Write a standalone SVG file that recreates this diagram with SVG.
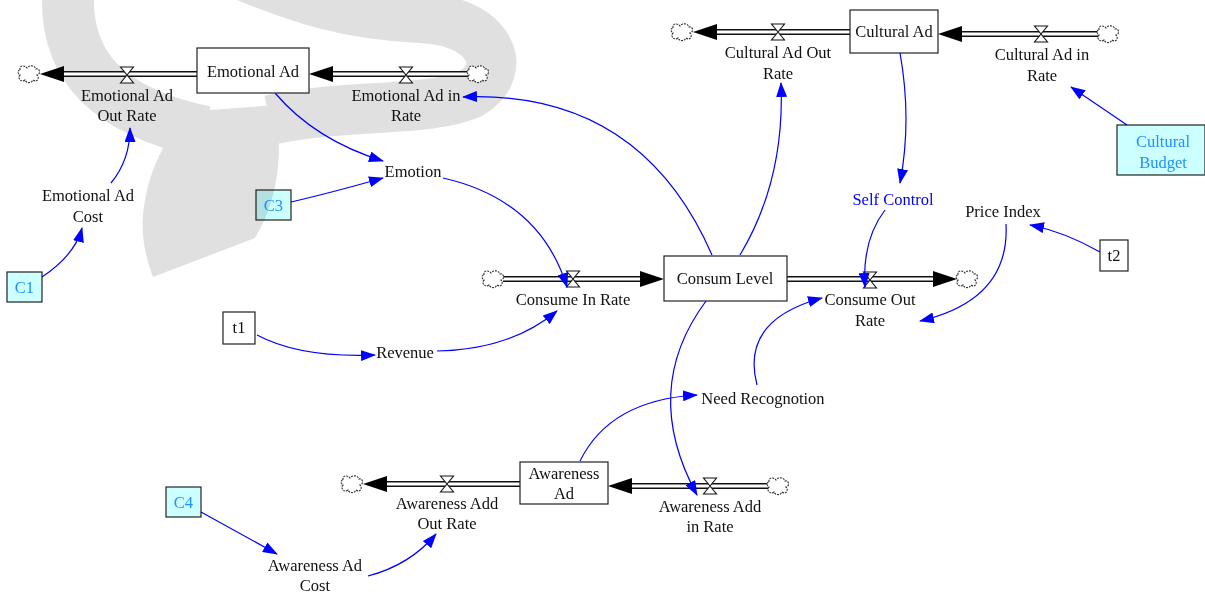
<svg xmlns="http://www.w3.org/2000/svg" width="1205" height="594" viewBox="0 0 1205 594">
  <style>
    text { font-family: "Liberation Serif", "Times New Roman", serif; font-size: 16.5px; fill: #111; text-anchor: middle; }
    .stock { fill: #fff; stroke: #222; stroke-width: 1.2; }
    .const { fill: #ccffff; stroke: #222; stroke-width: 1.2; mix-blend-mode: multiply; }
    .aux { fill: #fff; stroke: #222; stroke-width: 1.2; }
    text.ctext { fill: #1e90ff; }
    text.blue { fill: #0000ff; }
    .pipeOut { stroke: #111; stroke-width: 6; fill: none; }
    .pipeIn { stroke: #fff; stroke-width: 3; fill: none; }
    .link { stroke: #0000ff; stroke-width: 1.2; fill: none; marker-end: url(#ah); }
    .valve { fill: #fff; stroke: #111; stroke-width: 1.1; }
    .cloud { fill: #fff; stroke: #333; stroke-width: 1.1; stroke-dasharray: 2 1; }
    .head { fill: #000; }
    .markFill { fill: #e0e0e0; }
    .markStroke { fill: none; stroke: #e0e0e0; }
  </style>
  <defs>
    <marker id="ah" markerUnits="userSpaceOnUse" markerWidth="15" markerHeight="11" refX="14" refY="5.5" orient="auto">
      <path d="M0,0 L15,5.5 L0,11 Z" fill="#0000ff"/>
    </marker>
    <!-- cloud (source / sink) centred on 0,0 -->
    <path id="cloud" class="cloud" d="M-9,-4 C-10,-9 -4,-9 -2,-6 C0,-9 6,-9 7,-5 C11,-6 12,0 8,1 C11,4 8,9 4,6 C2,10 -3,9 -4,6 C-8,9 -12,4 -9,1 C-12,-1 -11,-4 -9,-4 Z"/>
    <!-- valve (hourglass) centred on 0,0 -->
    <path id="valve" class="valve" d="M-6.5,-8 L6.5,-8 L0,0 Z M-6.5,8 L6.5,8 L0,0 Z"/>
    <!-- pipe arrowheads: pointing left / right, tip at 0,0 -->
    <path id="headL" class="head" d="M0,0 L24,-8 L24,8 Z"/>
    <path id="headR" class="head" d="M0,0 L-24,-8 L-24,8 Z"/>
  </defs>

  <!-- background logo mark -->
  <g id="backmark">
    <path class="markStroke" stroke-width="52" d="M68,-5 C66,60 100,110 205,132"/>
    <path class="markStroke" stroke-width="50" d="M230,-30 C300,0 350,15 420,18 C490,20 512,70 470,94 C430,112 340,104 270,120"/>
    <path class="markFill" d="M185,112 L275,105 C285,160 275,205 255,238 L153,277 C143,250 140,228 145,200 C150,170 165,140 185,112 Z"/>
  </g>

  <!-- flows: pipes, valves, clouds -->
  <g id="flows">
    <!-- Emotional Ad Out Rate -->
    <g id="emotional-ad-out-rate">
      <path class="pipeOut" d="M197,74 L58,74"/><path class="pipeIn" d="M197,74 L58,74"/>
      <use href="#headL" x="40" y="74"/>
      <use href="#cloud" x="29" y="74"/>
      <use href="#valve" x="127" y="75"/>
      <text x="127" y="101">Emotional Ad</text>
      <text x="127" y="121">Out Rate</text>
    </g>
    <!-- Emotional Ad in Rate -->
    <g id="emotional-ad-in-rate">
      <path class="pipeOut" d="M468,74 L328,74"/><path class="pipeIn" d="M468,74 L328,74"/>
      <use href="#headL" x="309" y="74"/>
      <use href="#cloud" x="478" y="74"/>
      <use href="#valve" x="406" y="75"/>
      <text x="406" y="101">Emotional Ad in</text>
      <text x="406" y="121">Rate</text>
    </g>
    <!-- Cultural Ad Out Rate -->
    <g id="cultural-ad-out-rate">
      <path class="pipeOut" d="M850,32 L712,32"/><path class="pipeIn" d="M850,32 L712,32"/>
      <use href="#headL" x="693" y="32"/>
      <use href="#cloud" x="682" y="32"/>
      <use href="#valve" x="778" y="32"/>
      <text x="778" y="58">Cultural Ad Out</text>
      <text x="778" y="79">Rate</text>
    </g>
    <!-- Cultural Ad in Rate -->
    <g id="cultural-ad-in-rate">
      <path class="pipeOut" d="M1098,34 L958,34"/><path class="pipeIn" d="M1098,34 L958,34"/>
      <use href="#headL" x="938" y="34"/>
      <use href="#cloud" x="1108" y="34"/>
      <use href="#valve" x="1041" y="34"/>
      <text x="1042" y="60">Cultural Ad in</text>
      <text x="1042" y="81">Rate</text>
    </g>
    <!-- Consume In Rate -->
    <g id="consume-in-rate">
      <path class="pipeOut" d="M503,279 L645,279"/><path class="pipeIn" d="M503,279 L645,279"/>
      <use href="#headR" x="664" y="279"/>
      <use href="#cloud" x="493" y="279"/>
      <use href="#valve" x="573" y="279"/>
      <text x="573" y="305">Consume In Rate</text>
    </g>
    <!-- Consume Out Rate -->
    <g id="consume-out-rate">
      <path class="pipeOut" d="M787,279 L937,279"/><path class="pipeIn" d="M787,279 L937,279"/>
      <use href="#headR" x="957" y="279"/>
      <use href="#cloud" x="967" y="279"/>
      <use href="#valve" x="870" y="280"/>
      <text x="870" y="305">Consume Out</text>
      <text x="870" y="326">Rate</text>
    </g>
    <!-- Awareness Add Out Rate -->
    <g id="awareness-add-out-rate">
      <path class="pipeOut" d="M520,484 L382,484"/><path class="pipeIn" d="M520,484 L382,484"/>
      <use href="#headL" x="363" y="484"/>
      <use href="#cloud" x="352" y="484"/>
      <use href="#valve" x="447" y="484"/>
      <text x="447" y="509">Awareness Add</text>
      <text x="447" y="529">Out Rate</text>
    </g>
    <!-- Awareness Add in Rate -->
    <g id="awareness-add-in-rate">
      <path class="pipeOut" d="M768,486 L628,486"/><path class="pipeIn" d="M768,486 L628,486"/>
      <use href="#headL" x="608" y="486"/>
      <use href="#cloud" x="778" y="486"/>
      <use href="#valve" x="710" y="486"/>
      <text x="710" y="512">Awareness Add</text>
      <text x="710" y="532">in Rate</text>
    </g>
  </g>

  <!-- information links -->
  <g id="links">
    <path class="link" d="M712,255 Q640,90 463,97"/>
    <path class="link" d="M740,255 Q785,180 781,83"/>
    <path class="link" d="M900,53 Q912,120 900,183"/>
    <path class="link" d="M1127,125 L1071,87"/>
    <path class="link" d="M275,93 Q315,140 383,161"/>
    <path class="link" d="M291,202 Q330,193 383,178"/>
    <path class="link" d="M42,277 Q75,255 82,228"/>
    <path class="link" d="M111,183 Q130,160 130,128"/>
    <path class="link" d="M443,178 Q540,200 567,287"/>
    <path class="link" d="M257,335 Q300,358 375,355"/>
    <path class="link" d="M437,351 Q510,350 557,311"/>
    <path class="link" d="M885,210 Q862,240 865,287"/>
    <path class="link" d="M1100,252 Q1065,232 1030,225"/>
    <path class="link" d="M1006,224 Q1010,300 920,321"/>
    <path class="link" d="M757,385 Q740,320 822,298"/>
    <path class="link" d="M706,301 Q640,390 697,495"/>
    <path class="link" d="M580,461 Q610,400 697,395"/>
    <path class="link" d="M201,512 L277,554"/>
    <path class="link" d="M368,576 Q410,565 436,534"/>
  </g>

  <!-- stocks -->
  <g id="emotional-ad"><rect class="stock" x="197" y="48" width="112" height="45"/><text x="253" y="77">Emotional Ad</text></g>
  <g id="cultural-ad"><rect class="stock" x="850" y="10" width="88" height="43"/><text x="894" y="37">Cultural Ad</text></g>
  <g id="consum-level"><rect class="stock" x="664" y="256" width="123" height="45"/><text x="725" y="284">Consum Level</text></g>
  <g id="awareness-ad"><rect class="stock" x="520" y="462" width="88" height="42"/><text x="564" y="479">Awareness</text><text x="564" y="499">Ad</text></g>

  <!-- constants and inputs -->
  <g id="c1"><rect class="const" x="7" y="272" width="35" height="30"/><text class="ctext" x="24.5" y="293">C1</text></g>
  <g id="c3"><rect class="const" x="256" y="190" width="35" height="30"/><text class="ctext" x="273.5" y="211">C3</text></g>
  <g id="c4"><rect class="const" x="166" y="487" width="35" height="30"/><text class="ctext" x="183.5" y="508">C4</text></g>
  <g id="cultural-budget"><rect class="const" x="1117" y="125" width="88" height="50"/><text class="ctext" x="1163" y="147">Cultural</text><text class="ctext" x="1163" y="168">Budget</text></g>
  <g id="t1"><rect class="aux" x="223" y="312" width="32" height="32"/><text x="239" y="333">t1</text></g>
  <g id="t2"><rect class="aux" x="1100" y="240" width="28" height="31"/><text x="1114" y="261">t2</text></g>

  <!-- auxiliaries -->
  <g id="emotional-ad-cost"><text x="88" y="201">Emotional Ad</text><text x="88" y="222">Cost</text></g>
  <g id="emotion"><text x="413" y="177">Emotion</text></g>
  <g id="revenue"><text x="405" y="358">Revenue</text></g>
  <g id="self-control"><text class="blue" x="893" y="205">Self Control</text></g>
  <g id="price-index"><text x="1003" y="217">Price Index</text></g>
  <g id="need-recognotion"><text x="763" y="404">Need Recognotion</text></g>
  <g id="awareness-ad-cost"><text x="315" y="571">Awareness Ad</text><text x="315" y="591">Cost</text></g>
</svg>
